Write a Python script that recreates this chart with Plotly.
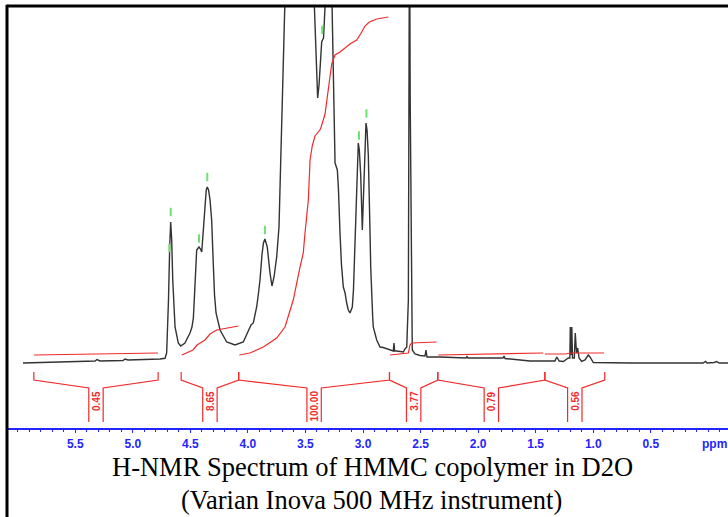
import plotly.graph_objects as go

# ---------------- data ----------------
# 1H spectrum trace: chemical shift (ppm) and relative intensity (baseline = 0)
spec_ppm = [5.954, 5.719, 5.459, 5.328, 5.311, 5.285, 5.085, 5.068, 5.042, 4.851,
            4.764, 4.720, 4.706, 4.690, 4.683, 4.679, 4.671, 4.662, 4.653, 4.642,
            4.633, 4.605, 4.584, 4.547, 4.503, 4.486, 4.474, 4.466, 4.460, 4.451,
            4.445, 4.425, 4.412, 4.401, 4.388, 4.373, 4.362, 4.353, 4.342, 4.329,
            4.315, 4.301, 4.290, 4.277, 4.242, 4.184, 4.112, 4.040, 3.997, 3.973,
            3.953, 3.924, 3.908, 3.895, 3.878, 3.865, 3.852, 3.832, 3.808, 3.791,
            3.773, 3.750, 3.730, 3.715, 3.704, 3.693, 3.678, 3.669, 3.634, 3.547,
            3.487, 3.443, 3.423, 3.408, 3.394, 3.382, 3.369, 3.359, 3.352, 3.343,
            3.330, 3.322, 3.304, 3.278, 3.267, 3.258, 3.249, 3.243, 3.223, 3.213,
            3.200, 3.187, 3.171, 3.156, 3.142, 3.128, 3.113, 3.093, 3.083, 3.070,
            3.058, 3.050, 3.041, 3.032, 3.020, 3.006, 2.997, 2.989, 2.981, 2.974,
            2.965, 2.954, 2.939, 2.933, 2.916, 2.911, 2.881, 2.852, 2.824, 2.765,
            2.737, 2.731, 2.725, 2.707, 2.650, 2.635, 2.620, 2.606, 2.600, 2.596,
            2.590, 2.583, 2.577, 2.572, 2.548, 2.505, 2.461, 2.453, 2.444, 2.331,
            2.105, 2.097, 2.088, 1.784, 1.775, 1.766, 1.549, 1.332, 1.317, 1.295,
            1.260, 1.216, 1.203, 1.199, 1.193, 1.186, 1.180, 1.164, 1.156, 1.145,
            1.135, 1.123, 1.100, 1.071, 1.043, 1.028, 0.999, 0.680, 0.046, 0.023,
            0.011, -0.050, -0.073, -0.093, -0.171]
spec_int = [0, 0.5, 1, 2, 3.5, 2, 2.5, 4, 3, 3.5,
            4, 4.7, 10, 63, 107, 118, 141, 123, 83, 53,
            36, 20, 17, 20, 30, 36, 45, 63, 83, 105,
            113, 116, 114, 111, 133, 163, 173, 176, 173, 163,
            143, 100, 68, 50, 33, 21, 18, 21, 31, 38,
            40, 56, 70, 83, 108, 120, 124, 116, 90, 77,
            86, 106, 136, 196, 248, 296, 356, 403, 663, 713,
            563, 413, 356, 293, 265, 278, 308, 321, 323, 325,
            356, 413, 563, 413, 356, 296, 243, 200, 193, 173,
            130, 98, 76, 70, 60, 53, 50, 56, 73, 123,
            173, 203, 220, 213, 188, 133, 163, 196, 228, 240,
            233, 208, 130, 96, 46, 36, 23, 16, 15.5, 13,
            12, 20, 12, 12, 11, 14, 16, 63, 263, 463,
            263, 163, 16, 13, 9, 7.5, 7, 13, 6, 6,
            5, 6.5, 5, 5, 7, 4.5, 2, 2, 6, 2,
            1.5, 5, 5, 36, 8, 36, 5, 5, 30, 10,
            15, 5, 1.5, 3, 8, 6, 0.5, 0, 0, 1.5,
            0, 0.5, 1.5, 0, 0]

# integral regions (ppm, left -> right) and their values
int_left = [5.86, 4.58, 4.08, 2.77, 2.35, 1.42]
int_right = [4.78, 4.08, 2.77, 2.35, 1.42, 0.90]
int_values = ["0.45", "8.65", "100.00", "3.77", "0.79", "0.56"]

# integral (running-sum) curves drawn over the spectrum
integ_ppm = [
    [5.858, 4.781],
    [4.575, 4.477, 4.442, 4.373, 4.329, 4.271, 4.083],
    [4.075, 3.982, 3.866, 3.750, 3.678, 3.606, 3.547, 3.519, 3.504, 3.475,
     3.460, 3.441, 3.417, 3.369, 3.330, 3.301, 3.287, 3.272, 3.243, 3.200,
     3.113, 3.055, 3.011, 2.983, 2.945, 2.881, 2.780],
    [2.765, 2.606, 2.592, 2.577, 2.360],
    [2.346, 1.434],
    [1.419, 1.245, 1.184, 0.906],
]
integ_val = [
    [8, 10],
    [8, 13, 18, 23, 29, 33, 37],
    [8, 10, 16, 25, 36, 63, 96, 110, 130, 163,
     203, 217, 227, 234, 249, 273, 285, 299, 308, 311,
     319, 323, 331, 337, 341, 344, 346],
    [8, 10, 18, 20, 21],
    [8, 10],
    [9, 9, 10, 10],
]

# picked peaks (green marks)
pick_ppm = [4.683, 4.671, 4.425, 4.353, 3.852, 3.354, 3.035, 2.970]
pick_level = [115, 151, 124.5, 186, 133, 333, 227.5, 249.5]

tick_vals = [5.5, 5.0, 4.5, 4.0, 3.5, 3.0, 2.5, 2.0, 1.5, 1.0, 0.5]
tick_text = ["5.5", "5.0", "4.5", "4.0", "3.5", "3.0", "2.5", "2.0", "1.5", "1.0", "0.5"]

title_line1 = "H-NMR Spectrum of HMMC copolymer in D2O"
title_line2 = "(Varian Inova 500 MHz instrument)"

# ---------------- styling ----------------
RED = "#f22a2a"
BLUE = "#2424ff"
GREEN = "#70e070"
X_RANGE = [6.093, -0.171]
Y_RANGE = [-65, 357]
PLOT_H = 422.0

fig = go.Figure()

fig.add_trace(go.Scatter(x=spec_ppm, y=spec_int, mode="lines",
                         line=dict(color="#333333", width=1.4),
                         hoverinfo="skip", showlegend=False))

for px, pv in zip(integ_ppm, integ_val):
    fig.add_trace(go.Scatter(x=px, y=pv, mode="lines",
                             line=dict(color=RED, width=1.2),
                             hoverinfo="skip", showlegend=False))

fig.add_trace(go.Scatter(x=pick_ppm, y=pick_level, mode="markers",
                         marker=dict(symbol="line-ns", size=6,
                                     line=dict(color=GREEN, width=2)),
                         hoverinfo="skip", showlegend=False))

# integral brackets under the spectrum
gap = 0.0625
for a, b, lab in zip(int_left, int_right, int_values):
    m = (a + b) / 2.0
    fig.add_trace(go.Scatter(
        x=[a, a, m + gap, m + gap, None, m - gap, m - gap, b, b],
        y=[-9, -17, -25, -59, None, -59, -25, -17, -9],
        mode="lines", line=dict(color=RED, width=1.2),
        hoverinfo="skip", showlegend=False))
    fig.add_annotation(x=m, y=-26, xref="x", yref="y", text="<b>%s</b>" % lab,
                       textangle=-90, showarrow=False, xanchor="center",
                       yanchor="top",
                       font=dict(family="Liberation Sans, Arial", size=10, color=RED))

# "ppm" unit label
fig.add_annotation(x=-0.05, xref="x", y=-16 / PLOT_H, yref="paper",
                   text="<b>ppm</b>", showarrow=False, xanchor="center",
                   yanchor="middle",
                   font=dict(family="Liberation Sans, Arial", size=12, color=BLUE))

# titles
fig.add_annotation(x=(372 - 7) / 721.0, xref="paper", y=-(467 - 428) / PLOT_H,
                   yref="paper", text=title_line1, showarrow=False,
                   xanchor="center", yanchor="middle",
                   font=dict(family="Liberation Serif, Times New Roman", size=26.5,
                             color="black"))
fig.add_annotation(x=(371 - 7) / 721.0, xref="paper", y=-(500 - 428) / PLOT_H,
                   yref="paper", text=title_line2, showarrow=False,
                   xanchor="center", yanchor="middle",
                   font=dict(family="Liberation Serif, Times New Roman", size=26.5,
                             color="black"))

# frame lines (top and left)
fig.add_shape(type="line", xref="paper", yref="paper", x0=0, x1=1.02, y0=1, y1=1,
              line=dict(color="black", width=3))
fig.add_shape(type="line", xref="paper", yref="paper", x0=0, x1=0, y0=1.003,
              y1=-(517 - 428) / PLOT_H - 0.01, line=dict(color="black", width=3))

fig.update_layout(
    width=728, height=517,
    margin=dict(l=7, r=0, t=6, b=89),
    paper_bgcolor="white", plot_bgcolor="white",
    xaxis=dict(range=X_RANGE, showgrid=False, zeroline=False,
               showline=True, linecolor=BLUE, linewidth=1.5,
               tickvals=tick_vals, ticktext=tick_text,
               ticks="outside", ticklen=3, tickcolor=BLUE, tickwidth=1,
               ticklabelstandoff=1,
               minor=dict(dtick=0.1, ticks="outside", ticklen=2,
                          tickcolor=BLUE, tickwidth=1),
               tickfont=dict(family="Liberation Sans, Arial", size=12,
                             color=BLUE, weight="bold")),
    yaxis=dict(range=Y_RANGE, visible=False),
)

fig.write_html("out.html",
               config={"displayModeBar": False},
               post_script="document.body.style.margin='0px';"
                           "document.body.style.padding='0px';"
                           "document.body.style.overflow='hidden';")
